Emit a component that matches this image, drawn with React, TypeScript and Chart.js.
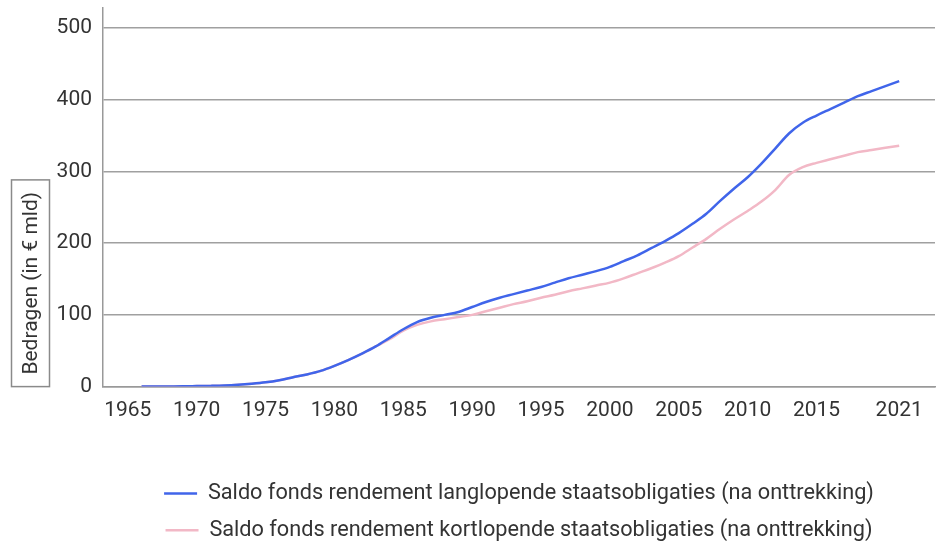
import React, { useEffect, useRef } from "react";
import { Chart, registerables } from "chart.js";

Chart.register(...registerables);

const years = [
  1966, 1967, 1968, 1969, 1970, 1971, 1972, 1973, 1974, 1975, 1976, 1977, 1978, 1979,
  1980, 1981, 1982, 1983, 1984, 1985, 1986, 1987, 1988, 1989, 1990, 1991, 1992, 1993,
  1994, 1995, 1996, 1997, 1998, 1999, 2000, 2001, 2002, 2003, 2004, 2005, 2006, 2007,
  2008, 2009, 2010, 2011, 2012, 2013, 2014, 2015, 2016, 2017, 2018, 2019, 2020, 2021,
];

const langlopend = [
  0, 0, 0.2, 0.4, 0.7, 1, 1.5, 2.5, 4, 6, 9, 13, 17, 22,
  29, 37, 46, 56, 68, 80, 90, 96, 100, 104, 111, 118, 124, 129,
  134, 139, 145, 151, 156, 161, 167, 175, 183, 193, 203, 214, 227, 241,
  259, 276, 292, 311, 332, 353, 368, 378, 387, 396, 405, 412, 419, 426,
];

const kortlopend = [
  0, 0, 0.2, 0.4, 0.7, 1, 1.5, 2.5, 4, 6, 9, 13, 17, 22,
  29, 37, 46, 56, 66, 78, 86, 91, 94, 97, 100, 105, 110, 115,
  119, 124, 128, 133, 137, 141, 145, 151, 158, 165, 173, 182, 194, 206,
  220, 233, 245, 258, 274, 295, 306, 312, 317, 322, 327, 330, 333, 336,
];

const xTickLabels = [1965, 1970, 1975, 1980, 1985, 1990, 1995, 2000, 2005, 2010, 2015, 2021];
const yTickLabels = [0, 100, 200, 300, 400, 500];

const seriesNames = [
  "Saldo fonds rendement langlopende staatsobligaties (na onttrekking)",
  "Saldo fonds rendement kortlopende staatsobligaties (na onttrekking)",
];
const yTitle = "Bedragen (in € mld)";

const FONT = "Roboto, 'Noto Sans', sans-serif";

const yTitlePlugin = {
  id: "yTitleBox",
  afterDraw(chart: any) {
    const ctx = chart.ctx;
    const area = chart.chartArea;
    ctx.save();
    ctx.font = `21px ${FONT}`;
    const w = ctx.measureText(yTitle).width;
    const boxLeft = 11.5;
    const boxW = 38;
    const boxBottom = area.bottom;
    const boxH = w + 24;
    ctx.strokeStyle = "#8a8a8a";
    ctx.lineWidth = 1.5;
    ctx.strokeRect(boxLeft, boxBottom - boxH, boxW, boxH);
    ctx.translate(boxLeft + boxW / 2, boxBottom - boxH / 2);
    ctx.rotate(-Math.PI / 2);
    ctx.fillStyle = "#333333";
    ctx.textAlign = "center";
    ctx.textBaseline = "middle";
    ctx.fillText(yTitle, 0, 1);
    ctx.restore();
  },
};

export default function App() {
  const canvasRef = useRef<HTMLCanvasElement | null>(null);

  useEffect(() => {
    if (!canvasRef.current) return;
    const chart = new Chart(canvasRef.current, {
      type: "line",
      data: {
        datasets: [
          {
            label: seriesNames[0],
            data: years.map((y, i) => ({ x: y, y: langlopend[i] })),
            borderColor: "#4065ea",
            backgroundColor: "#4065ea",
            borderWidth: 2.5,
            pointRadius: 0,
            tension: 0.4,
            cubicInterpolationMode: "monotone",
          },
          {
            label: seriesNames[1],
            data: years.map((y, i) => ({ x: y, y: kortlopend[i] })),
            borderColor: "#f2b8c6",
            backgroundColor: "#f2b8c6",
            borderWidth: 2.5,
            pointRadius: 0,
            tension: 0.4,
            cubicInterpolationMode: "monotone",
          },
        ],
      },
      options: {
        animation: false,
        responsive: true,
        maintainAspectRatio: false,
        layout: { padding: { top: 8, right: 1, left: 0, bottom: -9 } },
        plugins: {
          tooltip: { enabled: false },
          legend: {
            position: "bottom",
            fullSize: false,
            labels: {
              usePointStyle: true,
              pointStyle: "line",
              pointStyleWidth: 33,
              boxHeight: 21,
              padding: 15,
              color: "#333333",
              font: { family: FONT, size: 21.7 },
            },
          },
        },
        scales: {
          x: {
            type: "linear",
            min: 1963.2,
            max: 2023.6,
            afterBuildTicks: (scale: any) => {
              scale.ticks = xTickLabels.map((v) => ({ value: v }));
            },
            afterFit: (scale: any) => {
              scale.height = 81;
            },
            ticks: {
              autoSkip: false,
              maxRotation: 0,
              padding: 12,
              color: "#333333",
              font: { family: FONT, size: 21 },
              callback: (v: any) => String(v),
            },
            grid: { display: false, drawTicks: false },
            border: { display: true, color: "#999999", width: 1.5 },
          },
          y: {
            type: "linear",
            min: 0,
            max: 528,
            afterBuildTicks: (scale: any) => {
              scale.ticks = yTickLabels.map((v) => ({ value: v }));
            },
            afterFit: (scale: any) => {
              scale.width = 103;
            },
            ticks: {
              padding: 0,
              color: "#333333",
              font: { family: FONT, size: 21, lineHeight: 0.75 },
              callback: (v: any) => String(v),
            },
            grid: {
              color: "#a0a0a0",
              lineWidth: 1.5,
              drawTicks: true,
              tickLength: 11,
              tickColor: "rgba(0,0,0,0)",
            },
            border: { display: true, color: "#999999", width: 1.5 },
          },
        },
      },
      plugins: [yTitlePlugin],
    });
    return () => chart.destroy();
  }, []);

  return (
    <div style={{ position: "fixed", left: 0, top: 0, width: 936, height: 542, background: "#ffffff" }}>
      <canvas ref={canvasRef} />
    </div>
  );
}
